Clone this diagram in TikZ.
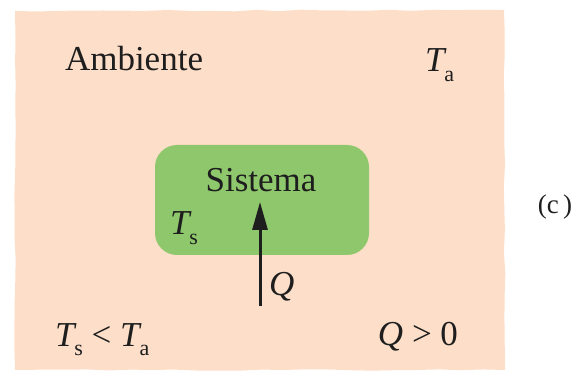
\documentclass[tikz,border=0pt]{standalone}
\usepackage{fontspec}
\setmainfont{Liberation Serif}
\usetikzlibrary{arrows.meta,decorations.pathmorphing}
\definecolor{peach}{RGB}{253,222,200}
\definecolor{sysgreen}{RGB}{142,199,108}
\definecolor{ink}{RGB}{30,30,30}
\newcommand\Vsym[2]{\textit{#1}\kern-0.06em\raisebox{-0.28em}{\fontsize{22}{22}\selectfont #2}}
\begin{document}
\begin{tikzpicture}[x=1pt,y=-1pt,
  lbl/.style={inner sep=0pt,outer sep=0pt,text=ink,font=\fontsize{35}{40}\selectfont},
  flow/.style={line width=3pt,draw=ink,-{Triangle[length=28pt,width=15pt]}}]
\useasboundingbox (0,0) rectangle (584,374);
\fill[peach,decorate,decoration={random steps,segment length=22pt,amplitude=0.8pt}]
  (15,11) -- (504,10) -- (505,370) -- (15,370) -- cycle;
\node[fill=sysgreen,rounded corners=22pt,minimum width=214pt,minimum height=110pt,inner sep=0pt] (sys) at (262,200) {};
\node[lbl,anchor=base west] (amb) at (65,71) {Ambiente};
\node[lbl,anchor=base west] (ta) at (425,72) {\Vsym{T}{a}};
\node[lbl,anchor=base] (sis) at (261,192) {Sistema};
\node[lbl,anchor=base west] (ts) at (170,235) {\Vsym{T}{s}};
\coordinate (qbot) at (260,306);
\coordinate (qtop) at (260,202);
\draw[flow] (qbot) -- (qtop);
\node[lbl,anchor=base west] (q) at (269,295) {\textit{Q}};
\node[lbl,anchor=base west] (rel) at (55,346) {\Vsym{T}{s} < \Vsym{T}{a}};
\node[lbl,anchor=base east] (qpos) at (458,345) {\textit{Q} > 0};
\node[lbl,anchor=center,font=\fontsize{27}{30}\selectfont] (c) at (555,207) {(c\,)};
\end{tikzpicture}
\end{document}
